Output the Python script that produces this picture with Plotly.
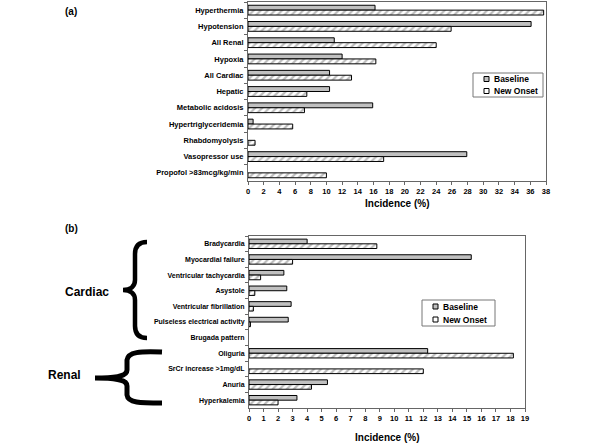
import plotly.graph_objects as go

W, H = 600, 445

cats_a = ["Hyperthermia", "Hypotension", "All Renal", "Hypoxia", "All Cardiac", "Hepatic",
          "Metabolic acidosis", "Hypertriglyceridemia", "Rhabdomyolysis", "Vasopressor use",
          "Propofol >83mcg/kg/min"]
baseline_a = [16.2, 36.1, 11.0, 12.0, 10.4, 10.4, 15.9, 0.65, None, 27.9, None]
new_a = [37.7, 25.9, 24.0, 16.3, 13.2, 7.5, 7.2, 5.7, 0.9, 17.3, 10.0]

cats_b = ["Bradycardia", "Myocardial failure", "Ventricular tachycardia", "Asystole",
          "Ventricular fibrillation", "Pulseless electrical activity", "Brugada pattern",
          "Oliguria", "SrCr increase >1mg/dL", "Anuria", "Hyperkalemia"]
baseline_b = [4.0, 15.3, 2.4, 2.6, 2.9, 2.7, None, 12.3, None, 5.4, 3.3]
new_b = [8.8, 3.0, 0.8, 0.4, 0.3, 0.1, None, 18.2, 12.0, 4.3, 2.0]

xticks_a = list(range(0, 39, 2))
xticks_b = list(range(0, 20, 1))
series_names = ["Baseline", "New Onset"]

FONT = "Liberation Sans, Arial, sans-serif"
GRAY = "#c0c0c0"


def px(x):
    return x / W


def py(y):
    return 1 - y / H


def base_trace(y, x, xa, ya):
    return go.Bar(y=y, x=x, orientation="h", name=series_names[0], xaxis=xa, yaxis=ya,
                  showlegend=False,
                  marker=dict(color=GRAY, line=dict(color="black", width=1)))


def new_trace(y, x, xa, ya):
    return go.Bar(y=y, x=x, orientation="h", name=series_names[1], xaxis=xa, yaxis=ya,
                  showlegend=False,
                  marker=dict(color="white",
                              pattern=dict(shape="/", fgcolor="#7a7a7a", bgcolor="white",
                                           size=5, solidity=0.45),
                              line=dict(color="black", width=1)))


fig = go.Figure()
fig.add_trace(base_trace(cats_a, baseline_a, "x", "y"))
fig.add_trace(new_trace(cats_a, new_a, "x", "y"))
fig.add_trace(base_trace(cats_b, baseline_b, "x2", "y2"))
fig.add_trace(new_trace(cats_b, new_b, "x2", "y2"))

tickfont_a = dict(family=FONT, size=7.5, color="black", weight="bold")
tickfont_b = dict(family=FONT, size=7, color="black", weight="bold")
axline = dict(showline=True, linecolor="#666", linewidth=1, mirror=True, showgrid=False,
              zeroline=False, ticks="outside", ticklen=3, tickcolor="#666", automargin=False)

fig.update_layout(
    width=W, height=H, margin=dict(l=0, r=0, t=0, b=0),
    paper_bgcolor="white", plot_bgcolor="white",
    barmode="group", bargap=0.4, bargroupgap=0, showlegend=False,
    font=dict(family=FONT, color="black"),
    xaxis=dict(domain=[px(248), px(546)], anchor="y", range=[0, 38], tickvals=xticks_a,
               tickfont=tickfont_a, **axline),
    yaxis=dict(domain=[py(181), py(2)], anchor="x", autorange="reversed",
               tickfont=tickfont_a, tickson="boundaries", ticklabelstandoff=2, **axline),
    xaxis2=dict(domain=[px(249), px(525)], anchor="y2", range=[0, 19], tickvals=xticks_b,
                tickfont=tickfont_a, **axline),
    yaxis2=dict(domain=[py(408), py(236)], anchor="x2", autorange="reversed",
                tickfont=tickfont_b, tickson="boundaries", ticklabelstandoff=2, **axline),
)


def text(t, x, y, size, xanchor="left"):
    fig.add_annotation(xref="paper", yref="paper", xanchor=xanchor, yanchor="middle",
                       showarrow=False, text=t, x=px(x), y=py(y),
                       font=dict(family=FONT, size=size, weight="bold", color="black"))


# axis titles
text("Incidence (%)", 397, 203, 10, "center")
text("Incidence (%)", 387, 437, 10, "center")
# panel labels and group labels
text("(a)", 63, 11, 10)
text("(b)", 63, 229, 10)
text("Cardiac", 63, 292, 12)
text("Renal", 46, 375, 12)


def legend_box(x0, y0, x1, y1):
    fig.add_shape(type="rect", xref="paper", yref="paper", x0=px(x0), x1=px(x1),
                  y0=py(y1), y1=py(y0), line=dict(color="#777", width=1),
                  fillcolor="white", layer="above")
    h = (y1 - y0) / 2
    fills = [GRAY, "white"]
    for i, name in enumerate(series_names):
        cy = y0 + h * (i + 0.5)
        fig.add_shape(type="rect", xref="paper", yref="paper", x0=px(x0 + 11),
                      x1=px(x0 + 16), y0=py(cy + 2.5), y1=py(cy - 2.5),
                      line=dict(color="black", width=1), fillcolor=fills[i], layer="above")
        text(name, x0 + 19, cy, 8.5)


legend_box(473, 73, 543, 97)
legend_box(422, 300, 495, 326)


def path_from_pixels(cmds):
    out = []
    for c in cmds:
        op = c[0]
        pts = c[1:]
        coords = []
        for i in range(0, len(pts), 2):
            coords.append(f"{px(pts[i]):.5f},{py(pts[i+1]):.5f}")
        out.append(op + " " + " ".join(coords))
    return " ".join(out)


cardiac_brace = [
    ("M", 147, 242),
    ("C", 139, 242, 135, 246, 135, 254),
    ("L", 135, 280),
    ("C", 135, 286, 131, 290, 123, 290),
    ("C", 131, 290, 135, 294, 135, 300),
    ("L", 135, 326),
    ("C", 135, 334, 139, 338, 147, 338),
]
renal_brace = [
    ("M", 162, 352),
    ("C", 140, 351, 128, 352, 127, 360),
    ("L", 127, 370),
    ("C", 127, 376, 118, 378, 95, 378),
    ("C", 118, 378, 127, 380, 127, 386),
    ("L", 127, 395),
    ("C", 128, 403, 140, 403, 162, 403),
]
fig.add_shape(type="path", xref="paper", yref="paper", path=path_from_pixels(cardiac_brace),
              line=dict(color="black", width=4.5))
fig.add_shape(type="path", xref="paper", yref="paper", path=path_from_pixels(renal_brace),
              line=dict(color="black", width=5))

fig.write_html("out.html", config={"displayModeBar": False},
               post_script="document.body.style.margin='0';document.body.style.padding='0';")
